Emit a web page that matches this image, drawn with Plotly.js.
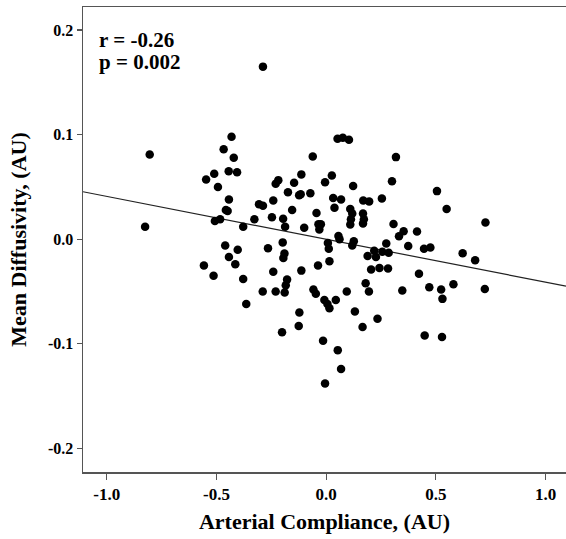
<!DOCTYPE html>
<html>
<head>
<meta charset="utf-8">
<script src="https://cdn.plot.ly/plotly-3.0.1.min.js"></script>
<style>html,body{margin:0;padding:0;background:#fff;}#chart{width:566px;height:539px;}</style>
</head>
<body>
<div id="chart"></div>
<script>
const compliance = [-0.804,-0.431,-0.467,-0.421,-0.510,-0.547,-0.444,-0.406,-0.493,-0.443,-0.457,-0.449,-0.507,-0.483,-0.825,-0.460,-0.403,-0.443,-0.414,-0.557,-0.513,
-0.378,-0.364,-0.265,-0.198,-0.190,-0.195,-0.241,-0.289,-0.230,-0.189,-0.184,-0.178,-0.113,-0.037,0.015,-0.122,-0.125,-0.201,-0.058,-0.047,-0.008,0.006,0.015,0.044,0.094,0.131,-0.014,0.053,0.068,-0.005,0.166,0.234,0.180,0.195,0.205,0.243,0.282,0.189,0.227,0.008,0.012,0.056,0.061,0.126,0.119,0.219,0.256,0.285,
-0.378,-0.327,-0.306,-0.288,-0.241,-0.247,-0.196,-0.187,-0.230,-0.218,-0.174,-0.146,-0.113,-0.123,-0.116,-0.155,-0.100,-0.061,-0.072,-0.044,-0.035,-0.024,-0.031,-0.005,0.026,0.032,0.068,0.038,0.052,0.076,0.104,0.123,0.110,0.119,0.113,0.110,0.169,0.196,0.168,0.172,0.168,0.254,
0.318,0.300,0.505,0.549,0.726,0.307,0.353,0.332,0.414,0.274,0.374,0.446,0.475,0.622,0.679,0.423,0.347,0.470,0.524,0.530,0.580,0.723,0.449,0.528,-0.288];
const diffusivity = [0.081,0.098,0.086,0.078,0.0625,0.057,0.065,0.064,0.050,0.038,0.028,0.027,0.0175,0.019,0.012,-0.006,-0.010,-0.017,-0.024,-0.025,-0.035,
-0.038,-0.062,-0.0086,-0.003,-0.0137,-0.018,-0.031,-0.050,-0.050,-0.051,-0.044,-0.0386,-0.030,-0.025,-0.021,-0.070,-0.083,-0.089,-0.048,-0.052,-0.058,-0.062,-0.066,-0.058,-0.050,-0.069,-0.097,-0.106,-0.124,-0.138,-0.084,-0.076,-0.042,-0.050,-0.029,-0.0275,-0.028,-0.016,-0.017,-0.0035,-0.009,0.003,0.0,-0.002,-0.006,-0.011,-0.012,-0.013,
0.012,0.019,0.0335,0.032,0.037,0.021,0.0195,0.012,0.053,0.0565,0.045,0.054,0.062,0.042,0.043,0.028,0.011,0.079,0.044,0.025,0.0144,0.0144,0.0093,0.0545,0.061,0.0395,0.038,0.030,0.096,0.097,0.095,0.051,0.029,0.0246,0.019,0.014,0.037,0.036,0.0246,0.019,0.015,0.039,
0.0785,0.0555,0.046,0.029,0.016,0.0146,0.0077,0.0029,0.0074,-0.004,-0.0064,-0.009,-0.008,-0.0134,-0.020,-0.033,-0.049,-0.046,-0.048,-0.057,-0.043,-0.0475,-0.092,-0.0935,0.165];

const fitSlope = -0.041;
const fitIntercept = 0.0;
const fitX = [-1.108, 1.093];
const fitY = fitX.map(v => fitIntercept + fitSlope * v);

const xTickVals = [-1.0, -0.5, 0.0, 0.5, 1.0];
const xTickText = ["-1.0", "-0.5", "0.0", "0.5", "1.0"];
const yTickVals = [-0.2, -0.1, 0.0, 0.1, 0.2];
const yTickText = ["-0.2", "-0.1", "0.0", "0.1", "0.2"];
const statLines = ["r = -0.26", "p = 0.002"];

const FONT = "Liberation Serif, Times New Roman, serif";

const traces = [
  {x: fitX, y: fitY, mode: "lines", type: "scatter", line: {color: "#222", width: 1.2}, hoverinfo: "skip"},
  {x: compliance, y: diffusivity, mode: "markers", type: "scatter", marker: {color: "#000", size: 8.5}}
];

const layout = {
  width: 566, height: 539,
  margin: {l: 83, r: 0, t: 7, b: 67},
  paper_bgcolor: "#fff", plot_bgcolor: "#fff",
  showlegend: false,
  font: {family: FONT, color: "#000"},
  xaxis: {
    range: [-1.108, 1.093], showgrid: false, zeroline: false,
    showline: true, mirror: true, linecolor: "#555", linewidth: 1.5,
    ticks: "outside", ticklen: 6, tickwidth: 1.2, tickcolor: "#555",
    tickvals: xTickVals, ticktext: xTickText,
    tickfont: {family: FONT, size: 17, color: "#000", weight: "bold"},
    title: {text: "<b>Arterial Compliance, (AU)</b>", font: {family: FONT, size: 22, color: "#000"}, standoff: 10}
  },
  yaxis: {
    range: [-0.2225, 0.222], showgrid: false, zeroline: false,
    showline: true, linecolor: "#555", linewidth: 1.5,
    ticks: "outside", ticklen: 5, tickwidth: 1.2, tickcolor: "#555",
    tickvals: yTickVals, ticktext: yTickText,
    tickfont: {family: FONT, size: 16, color: "#000", weight: "bold"},
    title: {text: "<b>Mean Diffusivity, (AU)</b>", font: {family: FONT, size: 22, color: "#000"}, standoff: 15}
  },
  annotations: [
    {xref: "paper", yref: "paper", x: 0.029, y: 0.929, xanchor: "left", yanchor: "middle", showarrow: false,
     text: "<b>" + statLines[0] + "</b>", font: {family: FONT, size: 21, color: "#000"}},
    {xref: "paper", yref: "paper", x: 0.029, y: 0.882, xanchor: "left", yanchor: "middle", showarrow: false,
     text: "<b>" + statLines[1] + "</b>", font: {family: FONT, size: 21, color: "#000"}}
  ]
};

Plotly.newPlot("chart", traces, layout, {staticPlot: true, displayModeBar: false});
</script>
</body>
</html>
